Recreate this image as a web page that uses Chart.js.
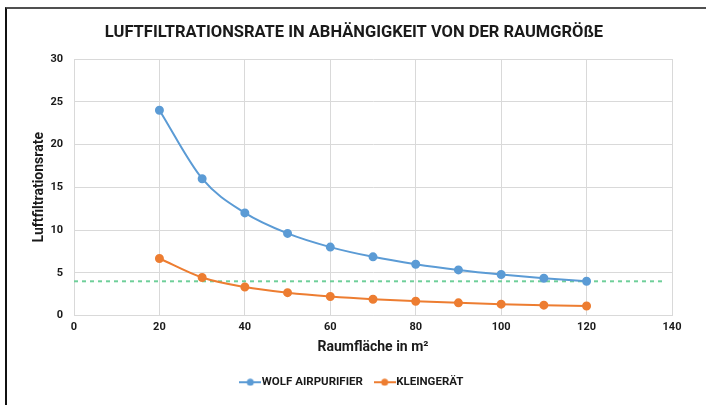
<!DOCTYPE html>
<html>
<head>
<meta charset="utf-8">
<script src="https://cdn.jsdelivr.net/npm/chart.js@4.4.1/dist/chart.umd.min.js"></script>
<style>
    body { margin: 0; background: #fff; }
    #wrap { position: relative; width: 706px; height: 405px; }
    #frame { position: absolute; left: 5px; top: 7px; right: 0; bottom: 0;
             border-top: 2px solid #505050; border-left: 2px solid #111; pointer-events: none; }
</style>
</head>
<body>
<div id="wrap">
    <canvas id="myChart" width="706" height="405"></canvas>
    <div id="frame"></div>
</div>
<script>
    // data
    const raumflaeche = [20, 30, 40, 50, 60, 70, 80, 90, 100, 110, 120];
    const wolfAirpurifier = [24, 16, 12, 9.6, 8, 6.86, 6, 5.33, 4.8, 4.36, 4];
    const kleingeraet = [6.67, 4.44, 3.33, 2.67, 2.22, 1.9, 1.67, 1.48, 1.33, 1.21, 1.11];
    const grenzwertX = [0, 138];
    const grenzwertY = [4, 4];

    const seriesNames = ['WOLF AIRPURIFIER', 'KLEINGERÄT'];
    const blue = '#5b9bd5';
    const orange = '#ed7d31';
    const green = '#6fcf9a';
    const tickFont = { family: 'Roboto', size: 11, weight: 'bold' };

    function toPoints(xs, ys) {
        return xs.map((x, i) => ({ x: x, y: ys[i] }));
    }

    // little line-with-dot marker for the legend
    function legendMarker(color) {
        const c = document.createElement('canvas');
        c.width = 22; c.height = 8;
        const g = c.getContext('2d');
        g.strokeStyle = color; g.lineWidth = 2;
        g.beginPath(); g.moveTo(0, 4); g.lineTo(22, 4); g.stroke();
        g.fillStyle = color;
        g.beginPath(); g.arc(11, 4, 3.5, 0, Math.PI * 2); g.fill();
        return c;
    }

    const ctx = document.getElementById('myChart');
    new Chart(ctx, {
        type: 'line',
        data: {
            datasets: [{
                label: seriesNames[0],
                data: toPoints(raumflaeche, wolfAirpurifier),
                borderColor: blue,
                backgroundColor: blue,
                borderWidth: 2,
                pointRadius: 3.5,
                cubicInterpolationMode: 'monotone'
            }, {
                label: seriesNames[1],
                data: toPoints(raumflaeche, kleingeraet),
                borderColor: orange,
                backgroundColor: orange,
                borderWidth: 2,
                pointRadius: 3.5,
                cubicInterpolationMode: 'monotone'
            }, {
                label: 'grenzwert',
                data: toPoints(grenzwertX, grenzwertY),
                borderColor: green,
                borderWidth: 2,
                borderDash: [4, 4],
                pointRadius: 0
            }]
        },
        options: {
            responsive: false,
            animation: false,
            layout: { padding: { left: 36, right: 34, top: 0, bottom: 7 } },
            plugins: {
                title: {
                    display: true,
                    text: 'LUFTFILTRATIONSRATE IN ABHÄNGIGKEIT VON DER RAUMGRÖßE',
                    color: '#1a1a1a',
                    font: { family: 'Roboto', size: 16.5, weight: 'bold', lineHeight: 1.2 },
                    padding: { top: 23, bottom: 16.2 }
                },
                legend: {
                    position: 'bottom',
                    labels: {
                        usePointStyle: true,
                        color: '#1a1a1a',
                        font: { family: 'Roboto', size: 11.5, weight: 'bold' },
                        padding: 16,
                        filter: item => item.datasetIndex < 2,
                        generateLabels: function (chart) {
                            return chart.data.datasets.map((ds, i) => ({
                                text: ds.label,
                                datasetIndex: i,
                                pointStyle: legendMarker(ds.borderColor),
                                fillStyle: ds.borderColor,
                                strokeStyle: ds.borderColor,
                                fontColor: '#1a1a1a',
                                lineWidth: 0
                            }));
                        }
                    }
                },
                tooltip: { enabled: false }
            },
            scales: {
                x: {
                    type: 'linear',
                    min: 0,
                    max: 140,
                    ticks: { stepSize: 20, color: '#1a1a1a', font: tickFont, padding: 5 },
                    grid: { color: '#d9d9d9', drawTicks: false },
                    border: { color: '#d9d9d9' },
                    title: {
                        display: true,
                        text: 'Raumfläche in m²',
                        color: '#1a1a1a',
                        font: { family: 'Roboto', size: 14, weight: 'bold', lineHeight: 1.2 },
                        padding: { top: 0, bottom: 5 }
                    },
                    afterFit: function (scale) { scale.height = 45; }
                },
                y: {
                    min: 0,
                    max: 30,
                    ticks: { stepSize: 5, color: '#1a1a1a', font: tickFont, padding: 11 },
                    grid: { color: '#d9d9d9', drawTicks: false },
                    border: { color: '#d9d9d9' },
                    title: {
                        display: true,
                        text: 'Luftfiltrationsrate',
                        color: '#1a1a1a',
                        font: { family: 'Roboto', size: 14, weight: 'bold', lineHeight: 1.2 },
                        padding: { top: -5, bottom: 0 }
                    },
                    afterFit: function (scale) { scale.width = 38; }
                }
            }
        }
    });
</script>
</body>
</html>
